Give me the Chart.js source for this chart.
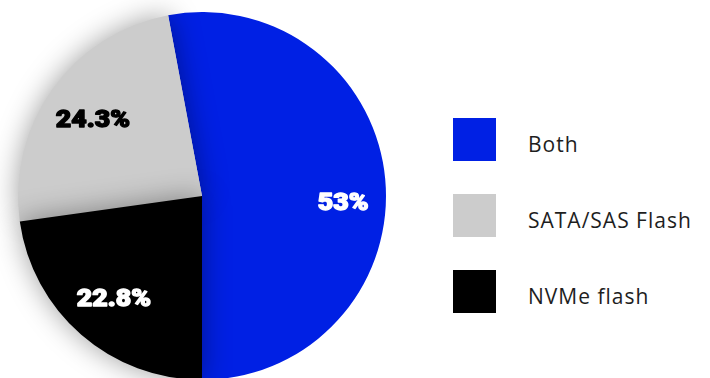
<!DOCTYPE html>
<html>
<head>
<meta charset="utf-8">
<script src="https://cdn.jsdelivr.net/npm/chart.js@4"></script>
<style>
  html, body { margin: 0; padding: 0; background: #ffffff; overflow: hidden; width: 710px; height: 378px; }
  #pieBox { position: absolute; left: 0; top: 0; width: 404px; height: 392px; }
  #legend { position: absolute; left: 453px; top: 118px; margin: 0; padding: 0; list-style: none;
            font-family: "Open Sans", "Noto Sans", sans-serif; font-size: 21px; color: #1e1e1e; }
  #legend li { display: flex; align-items: center; height: 43px; margin-bottom: 33px; }
  #legend .swatch { width: 43px; height: 43px; flex: none; }
  #legend .label { margin-left: 32px; position: relative; top: 4px; letter-spacing: 1px; white-space: nowrap; }
</style>
</head>
<body>
<div id="pieBox"><canvas id="pie"></canvas></div>
<ul id="legend"></ul>
<script>
// Storage types in use (legend order)
const categories = ['Both', 'SATA/SAS Flash', 'NVMe flash'];
const shares = [53, 24.3, 22.8];
const sliceColors = ['#0020e4', '#cccccc', '#000000'];
const labelColors = ['#ffffff', '#000000', '#ffffff'];

// Clockwise order of the slices around the pie, starting with "Both"
const sliceOrder = [0, 2, 1];

const total = shares.reduce((a, b) => a + b, 0);
// "Both" ends exactly at the bottom of the pie
const startRotation = 180 - shares[0] / total * 360;

// Slices get a soft drop shadow, painted in legend order so later slices shade earlier ones
const shadedSlices = {
  id: 'shadedSlices',
  beforeDatasetDraw(chart, args) {
    const ctx = chart.ctx;
    const els = args.meta.data;
    categories.forEach((name, k) => {
      const j = sliceOrder.indexOf(k);
      ctx.save();
      if (k > 0) {
        ctx.shadowColor = 'rgba(0,0,0,0.38)';
        ctx.shadowBlur = 28;
        ctx.shadowOffsetX = 0;
        ctx.shadowOffsetY = 0;
      }
      els[j].draw(ctx, chart.chartArea);
      ctx.restore();
    });
    return false;
  }
};

// Percentage labels placed inside each slice along its mid angle
const sliceLabels = {
  id: 'sliceLabels',
  afterDatasetsDraw(chart, args, opts) {
    const ctx = chart.ctx;
    const meta = chart.getDatasetMeta(0);
    const ds = chart.data.datasets[0];
    meta.data.forEach((arc, j) => {
      const p = arc.getProps(['x', 'y', 'startAngle', 'endAngle', 'outerRadius'], true);
      const mid = (p.startAngle + p.endAngle) / 2;
      const nudge = opts.nudge[j] || {};
      const r = p.outerRadius * (nudge.r || opts.radius);
      const x = p.x + Math.cos(mid) * r + (nudge.dx || 0);
      const y = p.y + Math.sin(mid) * r + (nudge.dy || 0);
      const text = ds.data[j] + '%';
      ctx.save();
      ctx.font = opts.font;
      ctx.fillStyle = ds.labelColor[j];
      ctx.strokeStyle = ds.labelColor[j];
      ctx.lineWidth = opts.weightStroke;
      ctx.lineJoin = 'round';
      ctx.textAlign = 'center';
      ctx.textBaseline = 'middle';
      ctx.translate(x, y);
      ctx.scale(opts.stretch, 1);
      ctx.strokeText(text, 0, 1);
      ctx.fillText(text, 0, 1);
      ctx.restore();
    });
  }
};

// Legend rendered as HTML next to the canvas
const htmlLegend = {
  id: 'htmlLegend',
  afterUpdate(chart) {
    const list = document.getElementById('legend');
    list.innerHTML = '';
    const items = chart.options.plugins.legend.labels.generateLabels(chart)
      .sort((a, b) => categories.indexOf(a.text) - categories.indexOf(b.text));
    items.forEach(item => {
      const li = document.createElement('li');
      const sw = document.createElement('span');
      sw.className = 'swatch';
      sw.style.background = item.fillStyle;
      const tx = document.createElement('span');
      tx.className = 'label';
      tx.textContent = item.text;
      li.appendChild(sw);
      li.appendChild(tx);
      list.appendChild(li);
    });
  }
};

new Chart(document.getElementById('pie'), {
  type: 'pie',
  data: {
    labels: sliceOrder.map(k => categories[k]),
    datasets: [{
      data: sliceOrder.map(k => shares[k]),
      backgroundColor: sliceOrder.map(k => sliceColors[k]),
      labelColor: sliceOrder.map(k => labelColors[k]),
      borderWidth: 0,
      hoverOffset: 0
    }]
  },
  options: {
    responsive: true,
    maintainAspectRatio: false,
    animation: false,
    rotation: startRotation,
    layout: { padding: { top: 12, bottom: 12, left: 18, right: 18 } },
    plugins: {
      legend: { display: false },
      tooltip: { enabled: false },
      sliceLabels: {
        font: '900 23px Roboto, Lato, "Open Sans", sans-serif',
        weightStroke: 1.3,
        radius: 0.73,
        stretch: 1.16,
        nudge: [{ r: 0.77, dy: 20 }, { dy: 2 }, { dy: 3 }]
      }
    }
  },
  plugins: [shadedSlices, sliceLabels, htmlLegend]
});
</script>
</body>
</html>
